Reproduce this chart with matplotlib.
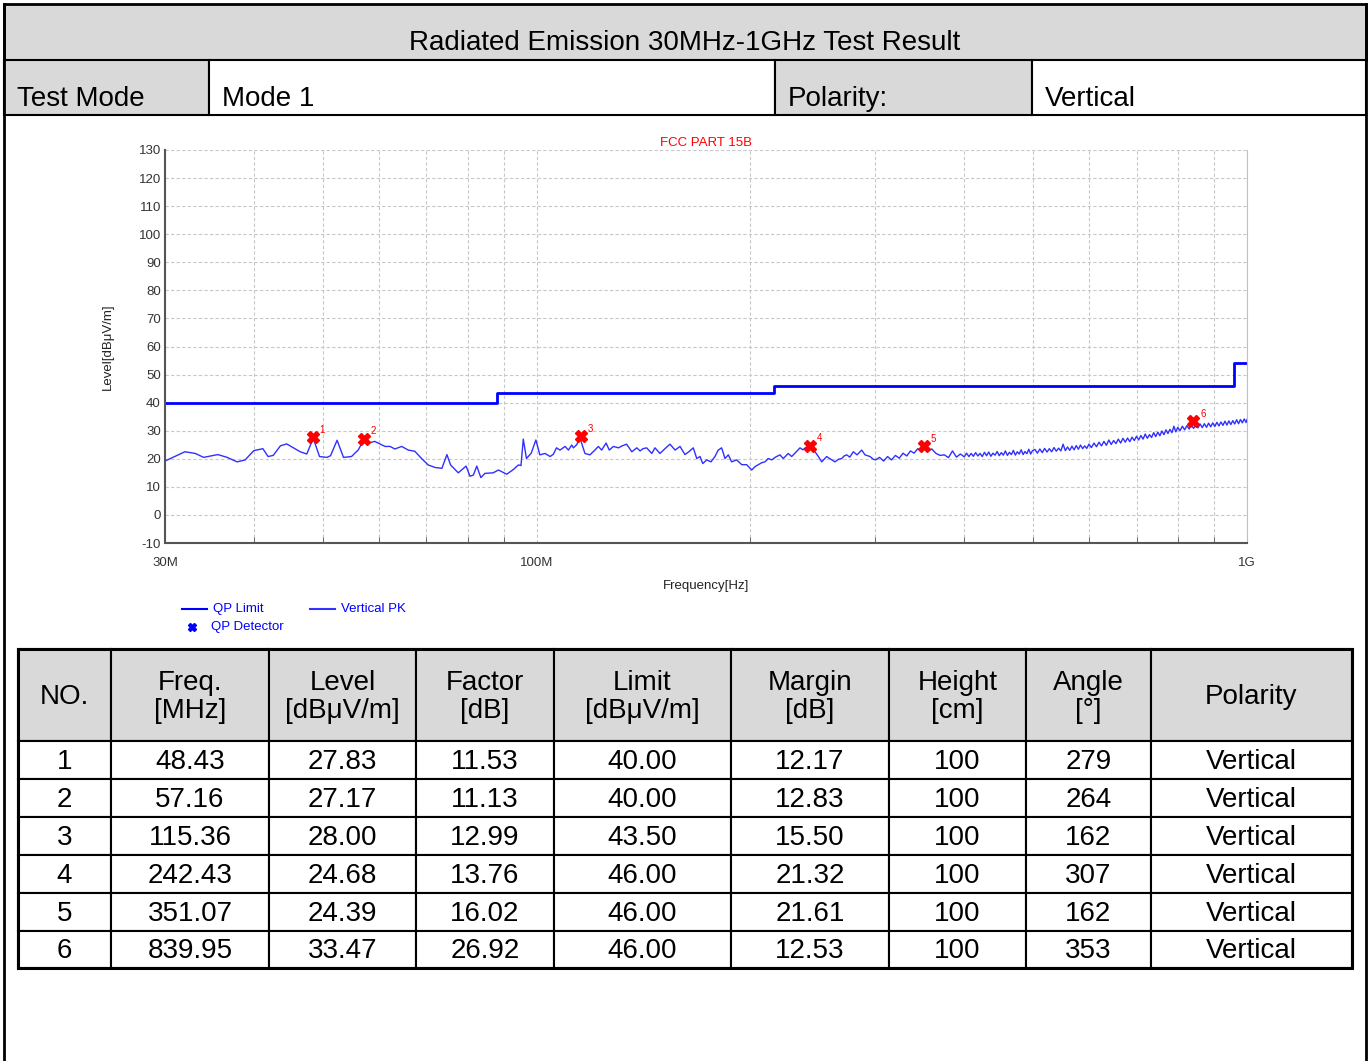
import matplotlib
matplotlib.use("Agg")
import matplotlib.pyplot as plt
from matplotlib.patches import Rectangle
from matplotlib.ticker import FixedLocator, NullFormatter

plt.rcParams['font.family'] = ['Liberation Sans', 'DejaVu Sans']
plt.rcParams['axes.unicode_minus'] = False

# ---- data ----
title = "Radiated Emission 30MHz-1GHz Test Result"
test_mode = "Mode 1"
polarity = "Vertical"

# QP limit steps (MHz, dBuV/m)
limit_freq = [30, 88, 88, 216, 216, 960, 960, 1000]
limit_level = [40, 40, 43.5, 43.5, 46, 46, 54, 54]

# Vertical PK trace (MHz, dBuV/m)
pk_freq = [30, 32.0, 33.1, 34.0, 35.6, 36.7, 37.9, 38.9, 40.0, 41.2, 41.9, 42.6,
           43.6, 44.5, 46.5, 47.5, 48.5, 49.5, 50.7, 51.3, 52.4, 53.5, 54.9, 56.1,
           57.2, 58.0, 59.2, 61.2, 62.2, 63.2, 64.6, 66.0, 67.4, 68.9, 70.4, 72.0,
           73.6, 74.8, 75.7, 77.6, 79.6, 80.6, 81.5, 82.4, 83.5, 84.6, 86.9, 88.4,
           90.8, 92.8, 94.3, 95.1, 95.8, 96.8, 98.3, 99.8, 101.1, 102.8, 104.5, 105.6,
           106.7, 107.9, 109.7, 110.9, 112.1, 112.7, 113.9, 115.1, 117.0, 118.9, 120.5,
           122.2, 123.5, 125.3, 126.6, 128.3, 130.4, 132.0, 133.9, 136.2, 138.4, 139.9,
           141.2, 142.9, 145.3, 146.8, 149.2, 151.5, 154.1, 156.7, 159.2, 161.8, 164.0,
           166.2, 168.1, 169.9, 171.4, 173.6, 176.0, 178.3, 180.2, 182.2, 184.2, 186.2,
           188.2, 191.3, 194.5, 197.6, 200.9, 203.0, 205.2, 207.5, 209.7, 211.9, 214.3,
           217.0, 220.1, 222.5, 226.1, 228.6, 231.5, 234.9, 237.0, 239.5, 242.6, 246.6,
           249.0, 252.0, 256.1, 258.9, 263.1, 266.0, 268.9, 271.0, 273.3, 276.0, 279.2,
           282.6, 286.9, 290.0, 294.7, 298.0,
           300, 304, 308, 312, 316, 320, 324, 328, 332, 336, 340, 344, 348, 352, 356,
           360, 365, 370, 375, 380, 385, 390, 395,
           400, 403, 406, 409, 412, 415, 418, 421, 424, 427, 430, 433, 436, 439, 442,
           445, 448, 451, 454, 457, 460, 463, 466, 469, 472, 475, 478, 481, 484, 487,
           490, 493, 496, 499,
           503, 507, 511, 515, 519, 523, 527, 531, 535, 539, 543, 547, 551, 555, 559,
           563, 567, 571, 575, 579, 583, 587, 591, 595, 599,
           604, 609, 614, 619, 624, 629, 634, 639, 644, 649, 654, 659, 664, 669, 674,
           679, 684, 689, 694, 699, 704, 709, 714, 719, 724, 729, 734, 739, 744, 749,
           754, 759, 764, 769, 774, 779, 784, 789, 794, 799,
           805, 811, 817, 823, 829, 835, 841, 847, 853, 859, 865, 871, 877, 883, 889,
           895, 901, 907, 913, 919, 925, 931, 937, 943, 949, 955, 961, 967, 973, 979,
           985, 991, 997, 1000]
pk_level = [19.2, 22.5, 21.9, 20.5, 21.5, 20.5, 18.9, 19.6, 22.9, 23.6, 20.8, 21.2,
            24.6, 25.3, 22.5, 21.7, 27.3, 20.8, 20.5, 21.1, 26.6, 20.5, 20.8, 23.1,
            27.0, 25.6, 26.2, 24.4, 24.4, 23.5, 24.4, 23.1, 22.7, 20.1, 17.8, 16.9,
            16.6, 21.5, 17.8, 15.0, 17.4, 13.8, 14.2, 17.4, 13.3, 14.8, 15.0, 16.0,
            14.5, 16.2, 17.8, 17.6, 27.0, 20.1, 22.0, 26.7, 21.4, 21.9, 20.8, 21.6,
            23.9, 23.1, 24.4, 23.1, 24.9, 23.9, 25.0, 27.5, 21.9, 21.4, 22.8,
            24.4, 23.1, 25.6, 23.1, 24.4, 23.9, 24.6, 25.2, 22.5, 23.9, 22.8,
            23.6, 23.9, 21.9, 23.9, 21.9, 23.5, 25.2, 23.1, 24.4, 21.5, 22.6,
            23.9, 20.1, 20.8, 18.3, 19.6, 18.9, 20.8, 23.1, 23.9, 20.1, 21.4,
            18.9, 19.6, 17.9, 17.9, 16.0, 17.2, 17.9, 18.6, 18.9, 20.1, 19.6,
            20.6, 21.4, 20.1, 21.9, 20.8, 22.2, 23.9, 23.2, 24.1, 24.4, 22.5,
            21.0, 18.9, 20.8, 20.0, 18.9, 19.8, 20.1, 21.0, 21.4, 20.6, 22.5,
            21.4, 23.1, 21.4, 20.8, 19.8,
            19.6, 20.5, 19.2, 20.8, 19.6, 21.2, 20.2, 22.0, 21.0, 22.8, 22.0, 23.6,
            22.7, 24.0, 22.8, 23.5, 21.9, 21.2, 21.4, 20.4, 22.8, 20.6, 21.7,
            20.7, 22.0, 20.8, 21.9, 20.9, 22.2, 21.0, 21.9, 20.8, 22.3, 21.1, 22.4,
            20.9, 22.0, 21.3, 22.6, 21.1, 22.2, 21.3, 22.8, 21.2, 22.3, 21.5, 23.0,
            21.3, 22.5, 21.7, 23.2, 21.5, 22.6, 21.8, 23.4, 21.7, 22.9,
            23.3, 22.0, 23.5, 22.2, 23.7, 22.4, 23.6, 22.5, 24.0, 22.7, 23.8, 22.8,
            25.2, 22.9, 24.2, 23.0, 24.5, 23.2, 24.7, 23.4, 24.9, 23.6, 24.6, 23.7,
            25.2,
            24.0, 25.6, 24.3, 25.9, 24.6, 26.2, 24.8, 26.7, 25.1, 26.5, 25.4, 27.0,
            25.6, 27.3, 25.9, 27.4, 26.1, 27.7, 26.5, 28.0, 26.7, 28.3, 27.0, 28.8,
            27.3, 28.6, 27.6, 29.3, 27.9, 29.5, 28.2, 29.9, 28.6, 30.3, 29.0, 30.5,
            29.3, 31.6, 29.6, 31.2,
            30.0, 31.6, 30.3, 31.8, 30.6, 32.1, 30.8, 32.3, 31.0, 32.4, 31.1, 32.5,
            31.2, 32.7, 31.4, 32.8, 31.5, 33.0, 31.7, 33.1, 31.9, 33.4, 32.0, 33.5,
            32.2, 33.6, 32.4, 33.9, 32.5, 34.0, 32.8, 34.2, 32.9, 34.0]

# QP detector results (table)
no = [1, 2, 3, 4, 5, 6]
qp_freq = [48.43, 57.16, 115.36, 242.43, 351.07, 839.95]
qp_level = [27.83, 27.17, 28.00, 24.68, 24.39, 33.47]
factor = [11.53, 11.13, 12.99, 13.76, 16.02, 26.92]
limit = [40.00, 40.00, 43.50, 46.00, 46.00, 46.00]
margin = [12.17, 12.83, 15.50, 21.32, 21.61, 12.53]
height = [100, 100, 100, 100, 100, 100]
angle = [279, 264, 162, 307, 162, 353]
pol = ["Vertical"] * 6

headers = ["NO.", "Freq.\n[MHz]", "Level\n[dBμV/m]", "Factor\n[dB]", "Limit\n[dBμV/m]",
           "Margin\n[dB]", "Height\n[cm]", "Angle\n[°]", "Polarity"]

# ---- page ----
W, H = 1370, 1061
fig = plt.figure(figsize=(W / 100, H / 100), dpi=100)
pg = fig.add_axes([0, 0, 1, 1])
pg.set_xlim(0, W)
pg.set_ylim(H, 0)
pg.axis('off')

gray = '#d9d9d9'
fs = 20

def cell(x0, y0, x1, y1, fc, lw=1.5):
    pg.add_patch(Rectangle((x0, y0), x1 - x0, y1 - y0, facecolor=fc,
                           edgecolor='black', linewidth=lw))

# title row
cell(4, 4, 1366, 60, gray, 2)
pg.text(685, 43, title, ha='center', va='center', fontsize=fs)
# mode row
for x0, x1, fc, txt in [(4, 209, gray, "Test Mode"), (209, 775, 'white', test_mode),
                        (775, 1032, gray, "Polarity:"), (1032, 1366, 'white', polarity)]:
    cell(x0, 60, x1, 115, fc)
    pg.text(x0 + 13, 99, txt, ha='left', va='center', fontsize=fs)
# outer frame
pg.plot([4, 4], [4, H], color='black', lw=2)
pg.plot([1366, 1366], [4, H], color='black', lw=2)

# legend
pg.plot([182, 207], [609, 609], color='blue', lw=1.5)
pg.text(213, 609, "QP Limit", color='blue', fontsize=9.5, va='center')
pg.plot([310, 335], [609, 609], color='#3333ff', lw=1.5)
pg.text(341, 609, "Vertical PK", color='blue', fontsize=9.5, va='center')
pg.plot([192], [627], marker='X', color='blue', markersize=6, linestyle='none')
pg.text(211, 627, "QP Detector", color='blue', fontsize=9.5, va='center')

# table
col_x = [18, 111, 269, 416, 554, 731, 889, 1026, 1151, 1352]
row_y = [649, 741, 779, 817, 855, 893, 931, 968]
for i, h in enumerate(headers):
    cell(col_x[i], row_y[0], col_x[i + 1], row_y[1], gray)
    pg.text((col_x[i] + col_x[i + 1]) / 2, (row_y[0] + row_y[1]) / 2 + 2, h,
            ha='center', va='center', fontsize=fs, linespacing=1.15)
for r in range(len(no)):
    vals = [str(no[r]), f"{qp_freq[r]:.2f}", f"{qp_level[r]:.2f}", f"{factor[r]:.2f}",
            f"{limit[r]:.2f}", f"{margin[r]:.2f}", str(height[r]), str(angle[r]), pol[r]]
    for i, v in enumerate(vals):
        cell(col_x[i], row_y[r + 1], col_x[i + 1], row_y[r + 2], 'white')
        pg.text((col_x[i] + col_x[i + 1]) / 2, (row_y[r + 1] + row_y[r + 2]) / 2 + 2, v,
                ha='center', va='center', fontsize=fs)
pg.add_patch(Rectangle((col_x[0], row_y[0]), col_x[-1] - col_x[0], row_y[-1] - row_y[0],
                       fill=False, edgecolor='black', linewidth=2.2))

# ---- chart ----
ax = fig.add_axes([165 / W, 1 - 543 / H, 1082 / W, 393 / H])
ax.set_xscale('log')
ax.set_xlim(30, 1000)
ax.set_ylim(-10, 130)
ax.set_yticks(range(-10, 131, 10))
ax.xaxis.set_major_locator(FixedLocator([30, 100, 1000]))
ax.set_xticklabels(["30M", "100M", "1G"])
minor = [40, 50, 60, 70, 80, 90, 200, 300, 400, 500, 600, 700, 800, 900]
ax.xaxis.set_minor_locator(FixedLocator(minor))
ax.xaxis.set_minor_formatter(NullFormatter())
ax.grid(True, which='both', linestyle=(0, (3, 2)), color='#c8c8c8', linewidth=0.8)
ax.tick_params(axis='both', which='both', direction='in', length=4, color='#555555',
               labelsize=9.5, labelcolor='#333333')
ax.tick_params(axis='x', which='major', length=0, pad=10)
ax.tick_params(axis='y', length=0, pad=3)
ax.spines['top'].set_visible(False)
ax.spines['right'].set_color('#c0c0c0')
ax.spines['left'].set_color('#555555')
ax.spines['bottom'].set_color('#555555')
ax.spines['left'].set_linewidth(1.5)
ax.spines['bottom'].set_linewidth(1.5)

ax.plot(limit_freq, limit_level, color='#0000ff', lw=2)
ax.plot(pk_freq, pk_level, color='#3030ff', lw=1)
ax.plot(qp_freq, qp_level, marker='X', color='red', markersize=9, linestyle='none')
for n, f, l in zip(no, qp_freq, qp_level):
    ax.annotate(str(n), (f, l), xytext=(5, 3), textcoords='offset points',
                color='red', fontsize=7)

ax.set_title("FCC PART 15B", color='red', fontsize=9.5, pad=3)
ax.set_xlabel("Frequency[Hz]", fontsize=9.5, labelpad=8, color='#222222')
ax.set_ylabel("Level[dBμV/m]", fontsize=9.5, labelpad=18, color='#222222')

fig.savefig("out.png", dpi=100)
